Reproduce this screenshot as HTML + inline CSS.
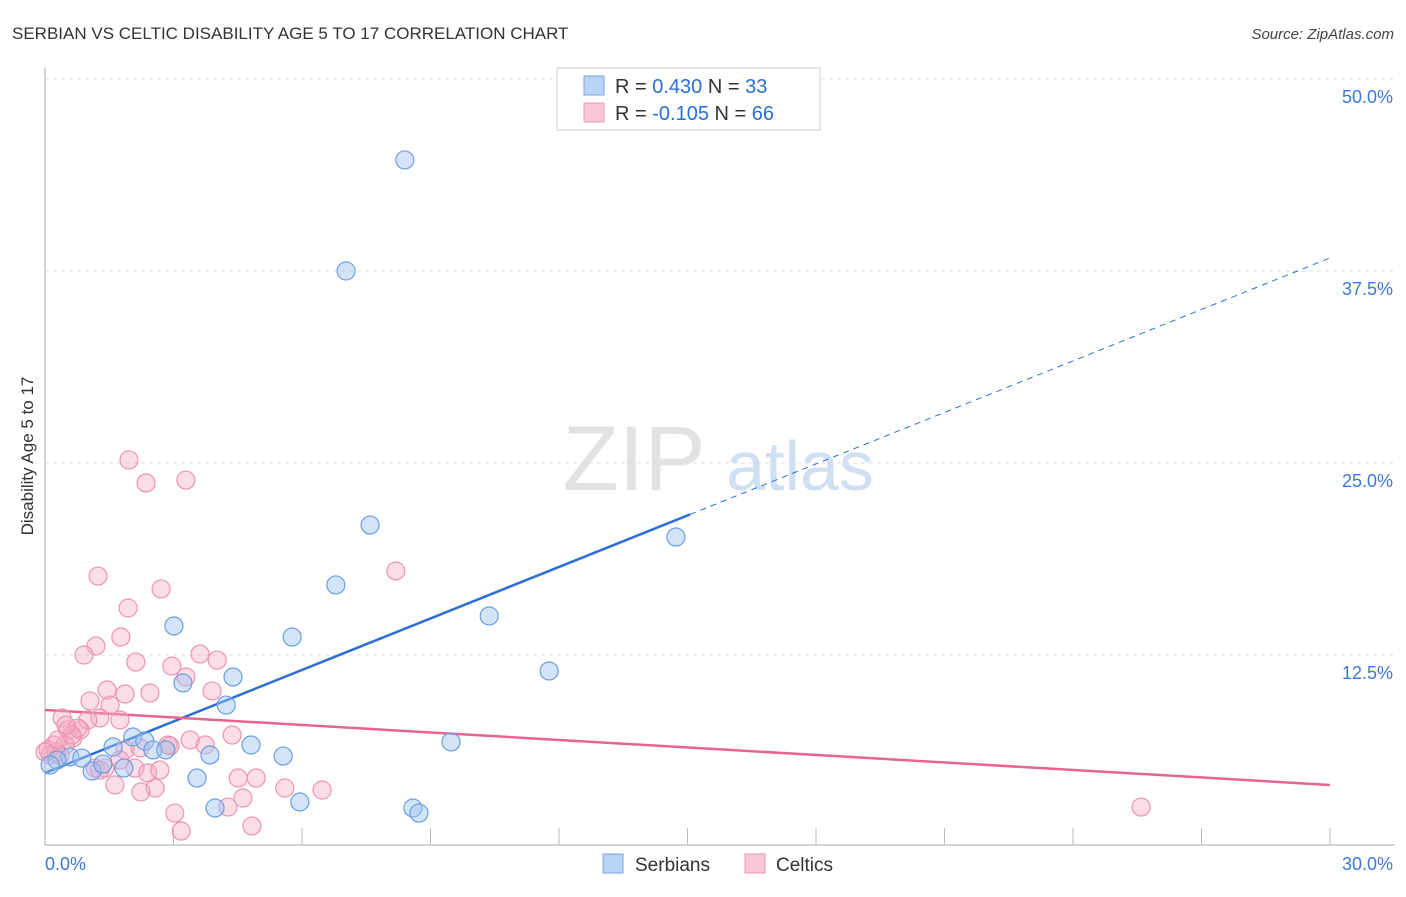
<!DOCTYPE html>
<html><head><meta charset="utf-8"><style>
body{margin:0;background:#fff;font-family:"Liberation Sans",sans-serif}
svg text{font-family:"Liberation Sans",sans-serif}
</style></head><body>
<svg id="chart" width="1406" height="892">
<text x="12" y="39" font-size="17" fill="#333">SERBIAN VS CELTIC DISABILITY AGE 5 TO 17 CORRELATION CHART</text>
<text x="1394" y="39" font-size="15" fill="#444" font-style="italic" text-anchor="end">Source: ZipAtlas.com</text>
<text x="33" y="456" font-size="17" fill="#333" text-anchor="middle" transform="rotate(-90 33 456)">Disability Age 5 to 17</text>
<g><text x="634" y="490" font-size="92" fill="#e2e2e2" font-family="Liberation Serif" text-anchor="middle">ZIP</text><text x="800" y="490" font-size="70" fill="#cfe0f3" text-anchor="middle">atlas</text></g>
<g id="grid"></g><g id="axes"></g><g id="trends"></g><g id="pts"></g>
<g>
<rect x="557" y="68" width="263" height="62" fill="#fff" stroke="#ccc"/>
<rect x="584" y="76" width="20" height="19" fill="#b8d3f5" stroke="#7aa6e0"/>
<rect x="584" y="103" width="20" height="19" fill="#f9c6d6" stroke="#eb9ab5"/>
<text x="615" y="93" font-size="20" fill="#333">R = <tspan fill="#2a6fd6"> 0.430</tspan>   N = <tspan fill="#2a6fd6">33</tspan></text>
<text x="615" y="120" font-size="20" fill="#333">R = <tspan fill="#2a6fd6">-0.105</tspan>   N = <tspan fill="#2a6fd6">66</tspan></text>
</g>
<g>
<rect x="603" y="854" width="20" height="19" fill="#b8d3f5" stroke="#7aa6e0"/>
<text x="635" y="871" font-size="19" fill="#333">Serbians</text>
<rect x="745" y="854" width="20" height="19" fill="#f9c6d6" stroke="#eb9ab5"/>
<text x="776" y="871" font-size="19" fill="#333">Celtics</text>
</g>
</svg>
<script>
const yTicks=[12.5,25,37.5,50];
const yTickLabels=["12.5%","25.0%","37.5%","50.0%"];
const xTickLabels=["0.0%","30.0%"];
const serbX=[8.40,7.03,7.59,14.73,6.79,10.37,3.01,5.77,11.77,3.22,4.39,4.23,9.48,4.81,2.05,2.33,2.52,2.82,1.59,3.85,5.56,3.55,1.84,1.10,1.35,0.58,0.86,0.28,0.12,3.97,5.95,8.59,8.73];
const serbY=[44.73,37.50,20.96,20.18,17.06,15.04,14.39,13.67,11.46,10.68,11.07,9.24,6.84,6.64,7.16,6.90,6.32,6.32,6.51,5.99,5.92,4.49,5.14,4.95,5.40,5.86,5.79,5.66,5.34,2.54,2.93,2.54,2.21];
const celtX=[1.96,2.36,3.29,1.24,2.71,8.19,1.94,1.77,1.19,0.91,2.12,2.96,3.62,4.02,3.29,2.45,1.87,1.45,1.05,3.90,1.52,1.75,1.28,1.00,0.40,0.54,0.82,0.65,4.37,0.47,0.21,0.07,0.26,0.35,2.87,2.92,1.87,1.17,1.40,2.10,2.40,4.51,4.93,1.63,2.57,2.24,5.60,6.47,4.62,4.27,3.03,4.83,3.18,25.59,0.12,0.00,0.77,0.30,2.22,1.75,1.28,2.68,0.63,0.49,3.39,3.74];
const celtY=[25.20,23.70,23.89,17.64,16.80,17.97,15.56,13.67,13.09,12.50,12.04,11.78,12.57,12.17,11.07,10.03,9.96,10.22,9.51,10.16,9.24,8.27,8.40,8.27,8.40,7.62,7.62,7.10,7.29,6.64,6.64,6.32,6.18,5.99,6.64,6.58,6.32,5.14,5.14,5.14,4.82,4.49,4.49,4.04,3.84,3.58,3.84,3.71,3.19,2.60,2.21,1.37,1.04,2.60,5.99,6.18,7.75,6.97,6.45,5.66,5.01,5.01,7.29,7.94,6.97,6.64];
const serbTrend=[4.82,38.35]; const serbSolidEnd=15.06;
const celtTrend=[8.92,4.04];
const NS="http://www.w3.org/2000/svg";
const X=v=>45+v/30*1285, Y=v=>847-v/12.5*192;
function mk(p,t,a){const e=document.createElementNS(NS,t);for(const k in a)e.setAttribute(k,a[k]);document.getElementById(p).appendChild(e);return e;}
yTicks.forEach((t,i)=>{
 const g=mk('grid','line',{x1:45,x2:1395,y1:Y(t),y2:Y(t),stroke:'#ddd','stroke-dasharray':'4,4'});
 
 
 const l=mk('grid','text',{x:1393,y:Y(t)+24,'font-size':18,fill:'#3b78d8','text-anchor':'end'});l.textContent=yTickLabels[i];
 
 
});
const ax=mk('axes','path',{d:'M45,68V845H1395',stroke:'#aaa',fill:'none'});


for(let i=1;i<=10;i++){const t=mk('axes','line',{x1:X(i*3),x2:X(i*3),y1:828,y2:845,stroke:'#bbb'});
 
 }
[[0,'start',45],[30,'end',1393]].forEach((d,i)=>{const l=mk('axes','text',{x:d[2],y:870,'font-size':18,fill:'#3b78d8','text-anchor':d[1]});l.textContent=xTickLabels[i];
 
 });
const sy=x=>serbTrend[0]+(serbTrend[1]-serbTrend[0])*x/30;
let l1=mk('trends','line',{x1:X(0),y1:Y(sy(0)),x2:X(serbSolidEnd),y2:Y(sy(serbSolidEnd)),stroke:'#2a6fd6','stroke-width':2.5});


let l2=mk('trends','line',{x1:X(serbSolidEnd),y1:Y(sy(serbSolidEnd)),x2:X(30),y2:Y(sy(30)),stroke:'#2a6fd6','stroke-width':1,'stroke-dasharray':'6,5'});


let l3=mk('trends','line',{x1:X(0),y1:Y(celtTrend[0]),x2:X(30),y2:Y(celtTrend[1]),stroke:'#e8648f','stroke-width':2.5});


celtX.forEach((x,i)=>{const c=mk('pts','circle',{cx:X(x),cy:Y(celtY[i]),r:9,fill:'rgba(246,170,196,0.4)',stroke:'#ec93b1','stroke-width':1.2});
 
 });
serbX.forEach((x,i)=>{const c=mk('pts','circle',{cx:X(x),cy:Y(serbY[i]),r:9,fill:'rgba(160,195,240,0.45)',stroke:'#6a9ee0','stroke-width':1.2});
 
 });
</script>
</body></html>
